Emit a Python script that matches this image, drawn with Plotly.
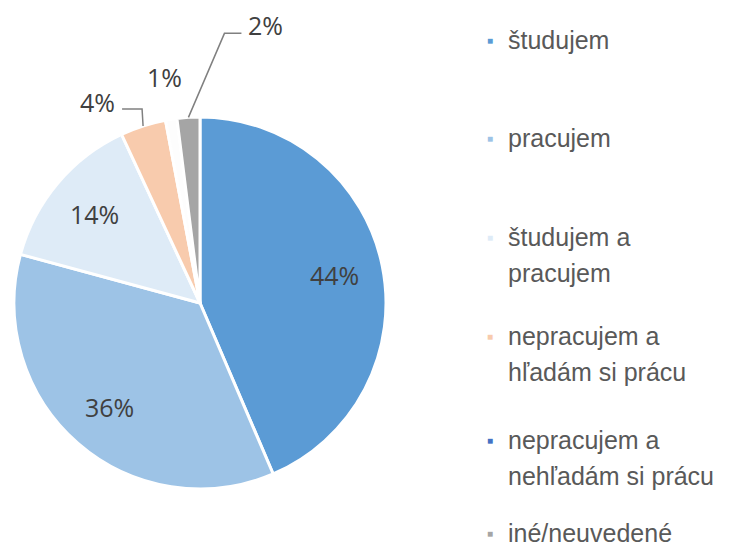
import math
import plotly.graph_objects as go

# data
labels = ['študujem', 'pracujem', 'študujem a<br>pracujem',
          'nepracujem a<br>hľadám si prácu', 'nepracujem a<br>nehľadám si prácu',
          'iné/neuvedené']
values = [44, 36, 14, 4, 1, 2]
slice_colors = ['#5B9BD5', '#9DC3E6', '#DEEBF7', '#F8CBAD', '#FDFDFD', '#A5A5A5']
legend_colors = ['#5B9BD5', '#9DC3E6', '#DEEBF7', '#F8CBAD', '#4472C4', '#A5A5A5']

# the page body has an 8px margin, so work in screen pixels and shift
OFF = 8
W, H = 734 - OFF, 546 - OFF
CX, CY, R = 200, 303, 186


def to_paper(x, y):
    return (x - OFF) / W, 1 - (y - OFF) / H


fig = go.Figure(go.Pie(
    labels=labels, values=values, sort=False, direction='clockwise', rotation=0,
    marker=dict(colors=slice_colors, line=dict(color='white', width=3)),
    textinfo='none',
    domain=dict(x=[(CX - R - OFF) / W, (CX + R - OFF) / W],
                y=[1 - (CY + R - OFF) / H, 1 - (CY - R - OFF) / H]),
    showlegend=False, hoverinfo='label+percent',
))

total = sum(values)
cum = 0
mids = []
for v in values:
    mids.append((cum + v / 2) / total * 2 * math.pi)
    cum += v


def polar(i, r):
    a = mids[i]
    return CX + r * math.sin(a), CY - r * math.cos(a)


annotations = []
shapes = []
lbl_font = dict(family='Open Sans', size=25, color='#404040')

# big slices: label inside at ~3/4 radius
for i, v in enumerate(values):
    if v >= 10:
        x, y = to_paper(*polar(i, 0.74 * R))
        annotations.append(dict(x=x, y=y, text=f'{v}%', showarrow=False,
                                xanchor='center', yanchor='middle', font=lbl_font))

# 4% - short elbow to the left
ex, ey = polar(3, R)
bx, by = ex - 1, ey - 17
lx = bx - 20
path = 'M {} {} L {} {} L {} {}'.format(*to_paper(ex, ey), *to_paper(bx, by), *to_paper(lx, by))
shapes.append(dict(type='path', path=path, xref='paper', yref='paper',
                   line=dict(color='#808080', width=1.5)))
tx, ty = to_paper(lx - 5, by - 7)
annotations.append(dict(x=tx, y=ty, text=f'{values[3]}%', showarrow=False,
                        xanchor='right', yanchor='middle', font=lbl_font))

# 1% - plain label above
tx, ty = to_paper(*polar(4, R + 43))
annotations.append(dict(x=tx, y=ty, text=f'{values[4]}%', showarrow=False,
                        xanchor='center', yanchor='middle', font=lbl_font))

# 2% - long elbow to the upper right
ex, ey = polar(5, R)
bx, by = ex + 36, ey - 84
lx = bx + 17
path = 'M {} {} L {} {} L {} {}'.format(*to_paper(ex, ey), *to_paper(bx, by), *to_paper(lx, by))
shapes.append(dict(type='path', path=path, xref='paper', yref='paper',
                   line=dict(color='#808080', width=1.5)))
tx, ty = to_paper(lx + 5, by - 8)
annotations.append(dict(x=tx, y=ty, text=f'{values[5]}%', showarrow=False,
                        xanchor='left', yanchor='middle', font=lbl_font))

# custom legend, one annotation per text line
legend_y = [40, 138, 237, 336, 440, 533]
line_gap = 36
for lab, col, ly in zip(labels, legend_colors, legend_y):
    mx, my = to_paper(490, ly)
    annotations.append(dict(x=mx, y=my, xref='paper', yref='paper', text='■',
                            showarrow=False, xanchor='center', yanchor='middle',
                            font=dict(size=10, color=col)))
    for k, part in enumerate(lab.split('<br>')):
        tx, ty = to_paper(506, ly + k * line_gap)
        annotations.append(dict(x=tx, y=ty, text=part, showarrow=False,
                                xanchor='left', yanchor='middle',
                                font=dict(family='Liberation Sans', size=25, color='#595959')))

for a in annotations:
    a['xref'] = 'paper'
    a['yref'] = 'paper'

fig.update_layout(width=W, height=H, margin=dict(l=0, r=0, t=0, b=0),
                  paper_bgcolor='white', plot_bgcolor='white',
                  annotations=annotations, shapes=shapes)
fig.write_html('out.html')
